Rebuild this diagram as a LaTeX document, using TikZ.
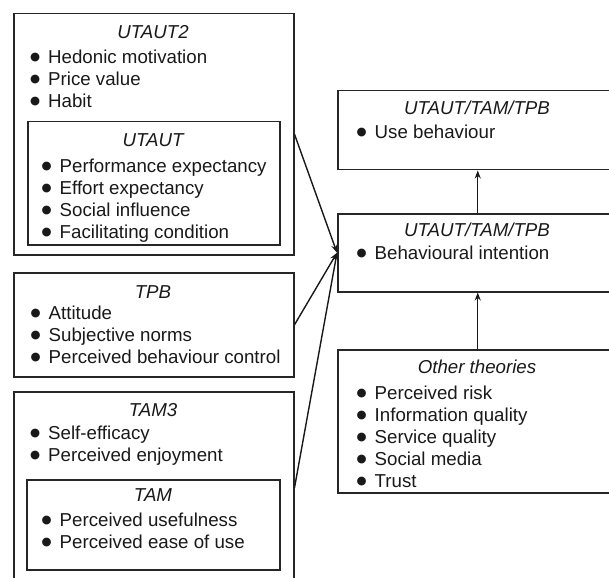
\documentclass[tikz,border=0pt]{standalone}
\usepackage{fontspec}
\setmainfont{Liberation Sans}
\newfontfamily\dotfont{DejaVu Sans}
\usetikzlibrary{arrows.meta, calc}
\newcommand{\bul}{\makebox[18pt][l]{\raisebox{3pt}{\dotfont\fontsize{11.5}{0}\selectfont ●}}}

\begin{document}
\begin{tikzpicture}[x=1pt, y=-1pt,
	box/.style={draw=black!85, line width=1.5pt, anchor=north west, inner sep=0pt},
	title/.style={anchor=base, font=\fontsize{18.7}{22}\selectfont\itshape, text=black!90, inner sep=0pt},
	list/.style={anchor=north west, align=left, font=\fontsize{18.7}{21.9}\selectfont, text=black!90, inner sep=0pt},
	link/.style={draw=black!90, line width=1.4pt, -{Stealth[length=8pt, width=6pt]}}]
	\useasboundingbox (0, 0) rectangle (609, 577);
	\clip (0, 0) rectangle (609, 577);
	% Boxes on the left:
	\node[box, minimum width=280pt, minimum height=241pt] (utaut2) at (13, 13){};
	\node[box, minimum width=252pt, minimum height=123pt] (utaut) at (27, 121){};
	\node[box, minimum width=280pt, minimum height=104pt] (tpb) at (13, 272){};
	\node[box, minimum width=280pt, minimum height=192pt] (tam3) at (13, 391){};
	\node[box, minimum width=253pt, minimum height=90pt] (tam) at (26, 479){};
	% Boxes on the right:
	\node[box, minimum width=280pt, minimum height=79pt] (use) at (337, 90){};
	\node[box, minimum width=280pt, minimum height=78pt] (intention) at (337, 213){};
	\node[box, minimum width=280pt, minimum height=143pt] (other) at (337, 349){};
	% Titles:
	\node[title] (utaut2-t) at (153, 39){UTAUT2};
	\node[title] (utaut-t) at (153, 146.5){UTAUT};
	\node[title] (tpb-t) at (153, 298.7){TPB};
	\node[title] (tam3-t) at (153, 416.7){TAM3};
	\node[title] (tam-t) at (153, 501.7){TAM};
	\node[title] (use-t) at (477, 114.7){UTAUT/TAM/TPB};
	\node[title] (intention-t) at (477, 236.7){UTAUT/TAM/TPB};
	\node[title] (other-t) at (477, 373.7){Other theories};
	% Items:
	\node[list] (utaut2-l) at (30, 49.5){\bul Hedonic motivation\\ \bul Price value\\ \bul Habit};
	\node[list] (utaut-l) at (41.5, 159){\bul Performance expectancy\\ \bul Effort expectancy\\ \bul Social influence\\ \bul Facilitating condition};
	\node[list] (tpb-l) at (30.5, 306.2){\bul Attitude\\ \bul Subjective norms\\ \bul Perceived behaviour control};
	\node[list] (tam3-l) at (30, 425.5){\bul Self-efficacy\\ \bul Perceived enjoyment};
	\node[list] (tam-l) at (41.5, 513.2){\bul Perceived usefulness\\ \bul Perceived ease of use};
	\node[list] (use-l) at (356.5, 125.2){\bul Use behaviour};
	\node[list] (intention-l) at (356.5, 246.2){\bul Behavioural intention};
	\node[list] (other-l) at (356.5, 386.2){\bul Perceived risk\\ \bul Information quality\\ \bul Service quality\\ \bul Social media\\ \bul Trust};
	% Arrows:
	\draw[link] (utaut2.east) -- (intention.west);
	\draw[link] (tpb.east) -- (intention.west);
	\draw[link] (tam3.east) -- (intention.west);
	\draw[link] (intention.north) -- (use.south);
	\draw[link] (other.north) -- (intention.south);
\end{tikzpicture}
\end{document}
